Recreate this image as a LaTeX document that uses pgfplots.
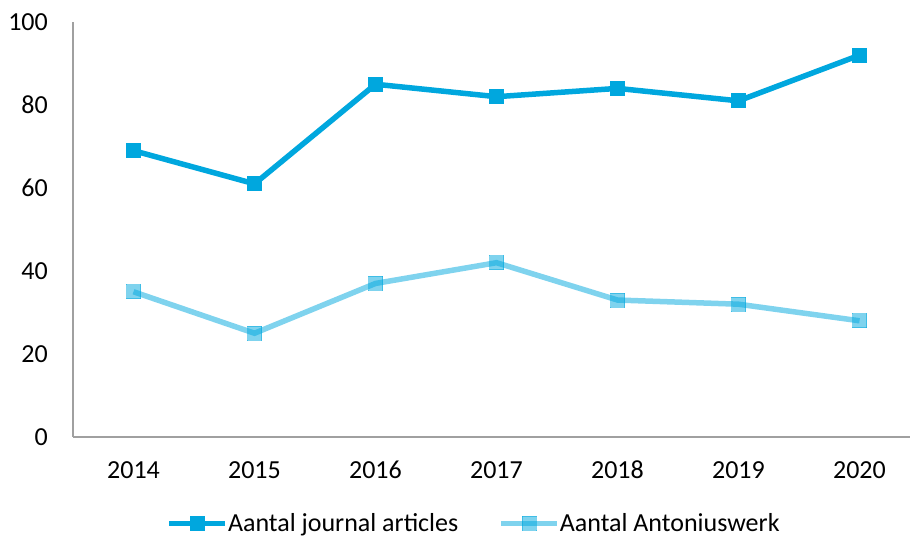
\documentclass[border=0pt]{standalone}
\usepackage{fontspec}
\setmainfont{Carlito}
\usepackage{pgfplots}
\pgfplotsset{compat=1.18}
\definecolor{dblue}{RGB}{0,167,222}
\definecolor{axgray}{RGB}{160,160,160}
\begin{document}
\begin{tikzpicture}[font=\fontsize{26pt}{31pt}\selectfont]
\path[use as bounding box] (0,0) rectangle (911pt,540pt);
\begin{axis}[
  at={(73pt,103pt)}, anchor=south west,
  scale only axis, width=837pt, height=415pt,
  xmin=2013.5, xmax=2020.417, ymin=0, ymax=100,
  axis x line*=bottom, axis y line*=left,
  axis line style={draw=axgray, line width=1.5pt, -},
  xtick={2014,...,2020}, ytick={0,20,...,100},
  xticklabels={2014,2015,2016,2017,2018,2019,2020},
  major tick length=0pt,
  tick style={draw=none},
  /pgf/number format/assume math mode=true,
  yticklabel style={anchor=east, inner sep=0pt, xshift=-25pt},
  xticklabel style={anchor=center, inner sep=0pt, yshift=-33pt},
  legend style={at={(0.478,-0.208)}, anchor=center, draw=none, fill=none,
    legend columns=-1, inner sep=0pt,
    /tikz/every even column/.append style={column sep=40pt},
    nodes={inner sep=0pt, anchor=west, xshift=6pt}},
  legend image code/.code={\draw[mark repeat=2,mark phase=2] plot coordinates {(-4pt,0pt)(24pt,0pt)(52pt,0pt)};},
]
\addplot[color=dblue, line width=5.5pt, mark=square*, mark size=7pt, mark options={line width=0pt}] coordinates {
(2014,69) (2015,61) (2016,85) (2017,82) (2018,84) (2019,81) (2020,92)};
\addlegendentry{Aantal journal articles}
\addplot[color=dblue, opacity=0.5, line width=5.5pt, mark=square*, mark size=7pt, mark options={line width=0pt}] coordinates {
(2014,35) (2015,25) (2016,37) (2017,42) (2018,33) (2019,32) (2020,28)};
\addlegendentry{Aantal Antoniuswerk}
\end{axis}
\end{tikzpicture}
\end{document}
